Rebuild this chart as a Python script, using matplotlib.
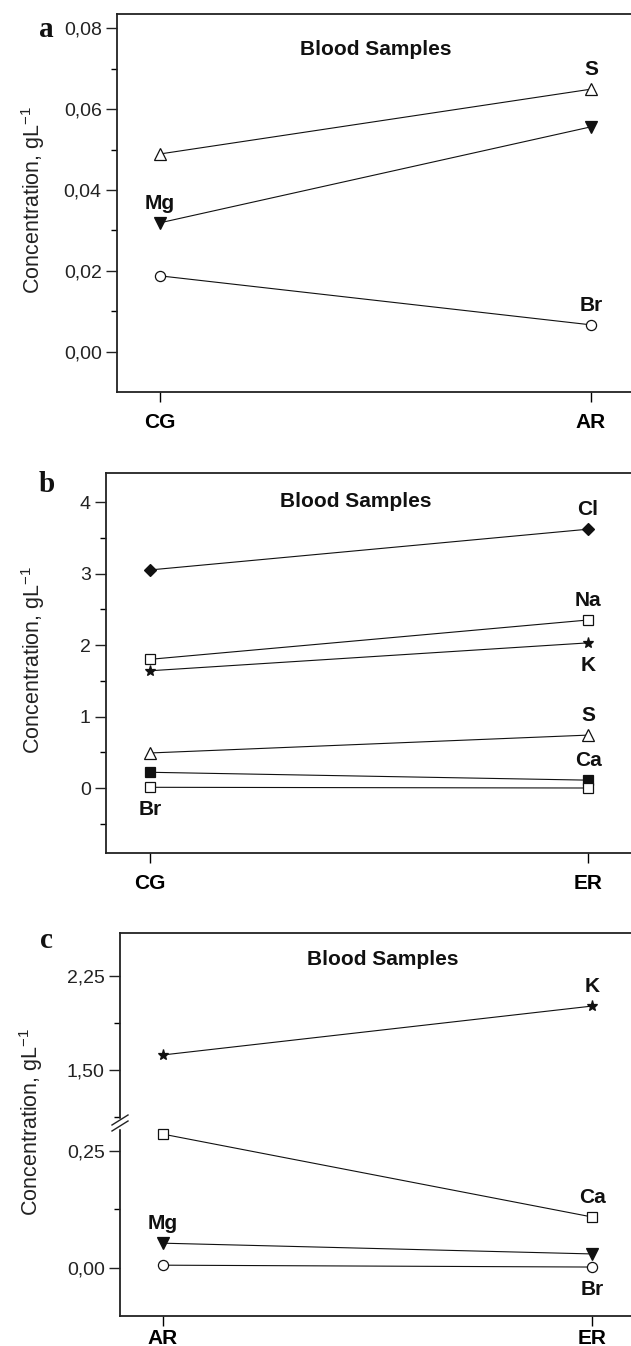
import matplotlib
matplotlib.use('Agg')
import matplotlib.pyplot as plt
from matplotlib.ticker import MultipleLocator, FuncFormatter

plt.rcParams['font.family'] = ['Liberation Sans', 'DejaVu Sans']
plt.rcParams['mathtext.fontset'] = 'custom'
plt.rcParams['mathtext.rm'] = 'Liberation Sans'

# ---------------- data ----------------
a_groups = ['CG', 'AR']
a_S = [0.0489, 0.0649]
a_Mg = [0.0319, 0.0556]
a_Br = [0.0188, 0.0067]

b_groups = ['CG', 'ER']
b_Cl = [3.05, 3.62]
b_Na = [1.80, 2.35]
b_K = [1.64, 2.03]
b_S = [0.49, 0.74]
b_Ca = [0.22, 0.11]
b_Br = [0.01, 0.00]

c_groups = ['AR', 'ER']
c_K = [1.62, 2.01]
c_Ca = [0.286, 0.109]
c_Mg = [0.053, 0.030]
c_Br = [0.006, 0.002]

title = 'Blood Samples'
ylabel = 'Concentration, gL$^{\\mathregular{-1}}$'

W, H = 631, 1346
fig = plt.figure(figsize=(W / 100, H / 100), dpi=100)


def rect(l, t, r, b):
    return [l / W, 1 - b / H, (r - l) / W, (b - t) / H]


def comma(dec):
    return FuncFormatter(lambda v, p: (f'{v:.{dec}f}').replace('.', ','))


def style(ax, xlim, ylim, major, minor, dec, groups=None, bottom=True, xpad=8):
    ax.set_xlim(*xlim)
    ax.set_ylim(*ylim)
    ax.yaxis.set_major_locator(MultipleLocator(major))
    ax.yaxis.set_minor_locator(MultipleLocator(minor))
    ax.yaxis.set_major_formatter(comma(dec))
    ax.tick_params(axis='y', which='major', direction='out', length=8, width=1,
                   labelsize=14, pad=3, colors='#222222')
    ax.tick_params(axis='y', which='minor', direction='out', length=4.5, width=1)
    ax.spines['right'].set_visible(False)
    for s in ax.spines.values():
        s.set_linewidth(1.3)
        s.set_color('#222222')
    if bottom and groups is not None:
        ax.set_xticks([0, 1])
        ax.set_xticklabels(groups, fontsize=15, fontweight='bold')
        ax.tick_params(axis='x', direction='out', length=7, width=1, pad=xpad)
    else:
        ax.set_xticks([])


def series(ax, vals, marker, ms, filled):
    ax.plot([0, 1], vals, color='#111111', lw=0.8, marker=marker, ms=ms,
            mfc='#111111' if filled else 'white', mec='#111111', mew=0.9,
            clip_on=False, zorder=3)


def lab(ax, text, x, y, above=True):
    ax.annotate(text, xy=(x, y), xytext=(0, 10 if above else -20),
                textcoords='offset points', ha='center', va='baseline',
                fontsize=15, fontweight='bold', color='#111111')


def ytitle(xpx, ypx):
    fig.text(xpx / W, 1 - ypx / H, ylabel, rotation=90, ha='center',
             va='center', fontsize=15.5, color='#222222')


def letter(t, xpx, ypx):
    fig.text(xpx / W, 1 - ypx / H, t, ha='left', va='baseline', fontsize=21,
             fontweight='bold', family='Liberation Serif', color='#111111')


# ---------------- panel a ----------------
axa = fig.add_axes(rect(117, 14, 645, 392))
style(axa, (-0.0998, 1.1253), (-0.00988, 0.08346), 0.02, 0.01, 2, a_groups)
series(axa, a_S, '^', 8.5, False)
series(axa, a_Mg, 'v', 9, True)
series(axa, a_Br, 'o', 7.3, False)
lab(axa, 'S', 1, a_S[1])
lab(axa, 'Mg', 0, a_Mg[0])
lab(axa, 'Br', 1, a_Br[1])
axa.text(0.491, 0.907, title, transform=axa.transAxes, ha='center',
         va='center', fontsize=15, fontweight='bold', color='#111111')
ytitle(33, 200)
letter('a', 39, 37)

# ---------------- panel b ----------------
axb = fig.add_axes(rect(106, 473, 645, 853))
style(axb, (-0.1005, 1.1301), (-0.909, 4.406), 1, 0.5, 0, b_groups)
series(axb, b_Cl, 'D', 6, True)
series(axb, b_Na, 's', 6.5, False)
series(axb, b_K, '*', 8, True)
series(axb, b_S, '^', 8.5, False)
series(axb, b_Ca, 's', 6.7, True)
series(axb, b_Br, 's', 6.5, False)
lab(axb, 'Cl', 1, b_Cl[1])
lab(axb, 'Na', 1, b_Na[1])
lab(axb, 'K', 1, b_K[1], above=False)
lab(axb, 'S', 1, b_S[1])
lab(axb, 'Ca', 1, b_Ca[1])
lab(axb, 'Br', 0, b_Br[0], above=False)
axb.text(0.4625, 0.924, title, transform=axb.transAxes, ha='center',
         va='center', fontsize=15, fontweight='bold', color='#111111')
ytitle(33, 660)
letter('b', 39, 492)

# ---------------- panel c (broken axis) ----------------
axc_top = fig.add_axes(rect(120, 933, 645, 1123))
axc_bot = fig.add_axes(rect(120, 1123, 645, 1316))
style(axc_top, (-0.1002, 1.1235), (1.0771, 2.593), 0.75, 0.375, 2, c_groups, bottom=False)
style(axc_bot, (-0.1002, 1.1235), (-0.1026, 0.3098), 0.25, 0.125, 2, c_groups, xpad=2)
axc_top.spines['bottom'].set_visible(False)
axc_bot.spines['top'].set_visible(False)
axc_top.tick_params(axis='x', which='both', bottom=False)

series(axc_top, c_K, '*', 8, True)
series(axc_bot, c_Ca, 's', 6.5, False)
series(axc_bot, c_Mg, 'v', 9, True)
series(axc_bot, c_Br, 'o', 7.3, False)
lab(axc_top, 'K', 1, c_K[1])
lab(axc_bot, 'Ca', 1, c_Ca[1])
lab(axc_bot, 'Mg', 0, c_Mg[0])
lab(axc_bot, 'Br', 1, c_Br[1], above=False)
axc_top.text(0.5, 0.858, title, transform=axc_top.transAxes, ha='center',
             va='center', fontsize=15, fontweight='bold', color='#111111')
ytitle(31, 1122)
letter('c', 40, 948)


# break marks on the left spine
def fx(px):
    return px / W


def fy(py):
    return 1 - py / H


fig.add_artist(plt.Line2D([fx(120), fx(120)], [fy(1119.5), fy(1126.5)],
                          color='white', lw=2.5, transform=fig.transFigure, zorder=10))
for dy in (-3, 3):
    fig.add_artist(plt.Line2D([fx(112), fx(128)], [fy(1128 + dy), fy(1118 + dy)],
                              color='#222222', lw=1.0, transform=fig.transFigure, zorder=11))

fig.savefig('out.png', dpi=100)
